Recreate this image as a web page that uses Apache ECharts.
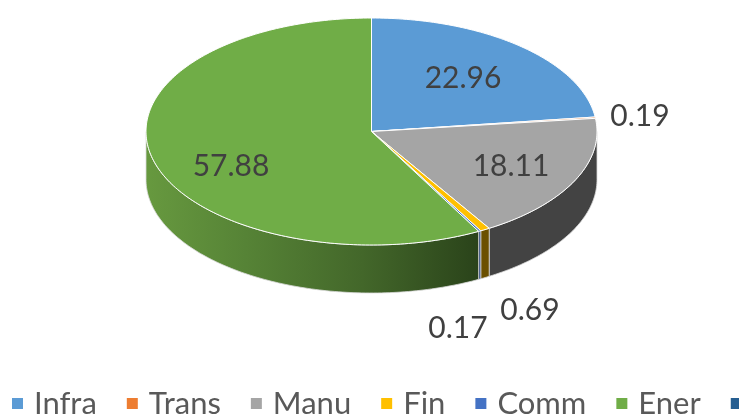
<!DOCTYPE html>
<html>
<head>
<meta charset="utf-8">
<style>html,body{margin:0;padding:0;background:#fff}#c{width:739px;height:418px}</style>
<script src="https://cdn.jsdelivr.net/npm/echarts@6/dist/echarts.min.js"></script>
</head>
<body>
<div id="c"></div>
<script>
var categories = ['Infra', 'Trans', 'Manu', 'Fin', 'Comm', 'Ener', '\u00a0'];
var values = [22.96, 0.19, 18.11, 0.69, 0.17, 57.88, 0];
var colors = ['#5b9bd5', '#ed7d31', '#a5a5a5', '#ffc000', '#4472c4', '#70ad47', '#255e91'];

var CX = 371.5, CY = 131.5, RX = 225.5, RY = 113.5, DEPTH = 48;
var FONT = '30px Lato';
var LABEL_POS = [[463, 78], [640, 116], [511, 166], [530, 310], [458, 328], [231, 166], null];
var WALL_FILL = [
  null, null, '#434343', '#6b5000',
  '#2a4478',
  new echarts.graphic.LinearGradient(0, 0, 1, 0, [
    {offset: 0, color: '#67993f'},
    {offset: 0.3, color: '#568336'},
    {offset: 0.65, color: '#43672a'},
    {offset: 1, color: '#2a431a'}
  ]),
  null
];

var total = values.reduce(function (a, b) { return a + b; }, 0);
function pt(deg, dy) {
  var r = deg * Math.PI / 180;
  return [CX + RX * Math.sin(r), CY - RY * Math.cos(r) + (dy || 0)];
}
function arc(from, to, dy) {
  var out = [], n = Math.max(2, Math.ceil(Math.abs(to - from)));
  for (var i = 0; i <= n; i++) out.push(pt(from + (to - from) * i / n, dy));
  return out;
}
function makeRender(idx) {
  return function (params, api) {
    var v = api.value(0), kids = [];
    if (!(v > 0)) return {type: 'group', children: []};
    var before = values.slice(0, idx).reduce(function (a, b) { return a + b; }, 0);
    var a0 = before / total * 360, a1 = (before + v) / total * 360;
    var w0 = Math.max(a0, 90), w1 = Math.min(a1, 270);
    if (w1 > w0 && WALL_FILL[idx]) {
      kids.push({
        type: 'polygon',
        shape: {points: arc(w0, w1, 0).concat(arc(w1, w0, DEPTH))},
        style: {fill: WALL_FILL[idx], stroke: '#d9d9d9', lineWidth: 0.8}
      });
    }
    kids.push({
      type: 'polygon',
      shape: {points: [[CX, CY]].concat(arc(a0, a1, 0))},
      style: {fill: colors[idx], stroke: '#ffffff', lineWidth: 1}
    });
    if (LABEL_POS[idx]) {
      kids.push({
        type: 'text', z2: 50,
        style: {
          text: v.toFixed(2), x: LABEL_POS[idx][0], y: LABEL_POS[idx][1],
          font: FONT, fill: '#404040', align: 'center', verticalAlign: 'middle'
        }
      });
    }
    return {type: 'group', children: kids};
  };
}
var chart = echarts.init(document.getElementById('c'), null, {renderer: 'canvas'});
chart.setOption({
  animation: false,
  backgroundColor: '#ffffff',
  color: colors,
  legend: {
    data: categories, left: 12, top: 388, width: 1000,
    itemWidth: 11, itemHeight: 11, itemGap: 30, padding: 0, icon: 'rect',
    selectedMode: false,
    textStyle: {fontFamily: 'Lato', fontSize: 31, color: '#595959', padding: [0, 0, 0, 6]}
  },
  series: categories.map(function (name, i) {
    return {
      type: 'custom', name: name, coordinateSystem: 'none',
      silent: true, data: [[values[i]]],
      itemStyle: {color: colors[i]},
      renderItem: makeRender(i)
    };
  })
});
</script>
</body>
</html>
